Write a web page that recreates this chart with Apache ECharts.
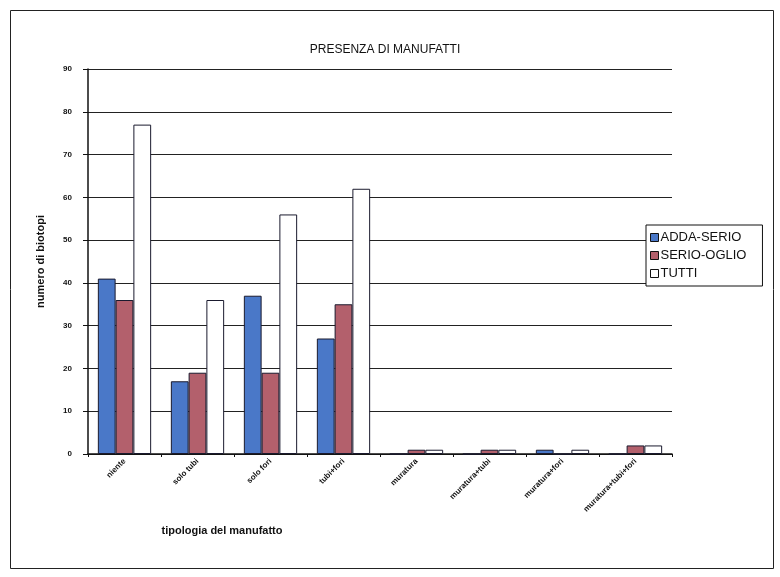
<!DOCTYPE html>
<html>
<head>
<meta charset="utf-8">
<script src="https://cdn.jsdelivr.net/npm/echarts@6/dist/echarts.min.js"></script>
<style>html,body{margin:0;padding:0;background:#fff}#c{width:780px;height:577px}</style>
</head>
<body>
<div id="c"></div>
<script>
const categories = ["niente", "solo tubi", "solo fori", "tubi+fori", "muratura", "muratura+tubi", "muratura+fori", "muratura+tubi+fori"];
const addaSerio = [41, 17, 37, 27, 0, 0, 1, 0];
const serioOglio = [36, 19, 19, 35, 1, 1, 0, 2];
const tutti = [77, 36, 56, 62, 1, 1, 1, 2];
const seriesNames = ["ADDA-SERIO", "SERIO-OGLIO", "TUTTI"];
const yTicks = [0, 10, 20, 30, 40, 50, 60, 70, 80, 90];

const chart = echarts.init(document.getElementById('c'));
const F = 'Liberation Sans, Arial, sans-serif';
const colors = ['#4a78c8', '#b3606c', '#ffffff'];
const mk = (name, data, i) => ({
  name, type: 'bar', data,
  barGap: '0%', barCategoryGap: '27%',
  itemStyle: { color: colors[i], borderColor: '#1a1a2e', borderWidth: 1 }
});
chart.setOption({
  animation: false,
  backgroundColor: '#fff',
  graphic: [{ type: 'rect', left: 8, top: 8, shape: { width: 763, height: 558 }, style: { fill: 'none', stroke: '#222', lineWidth: 1 } }],
  title: [
    { text: 'PRESENZA DI MANUFATTI', left: 380, top: 39, textAlign: 'center', textStyle: { fontFamily: F, fontSize: 12, fontWeight: 'normal', color: '#111' } },
    { text: 'tipologia del manufatto', left: 217, top: 520, textAlign: 'center', textStyle: { fontFamily: F, fontSize: 11, fontWeight: 'bold', color: '#111' } }
  ],
  legend: {
    orient: 'vertical', left: 646, top: 225, padding: [6, 16, 6, 4], itemGap: 5,
    itemWidth: 8, itemHeight: 8, icon: 'rect',
    borderColor: '#111', borderWidth: 1, backgroundColor: '#fff',
    textStyle: { fontFamily: F, fontSize: 13, color: '#111', padding: [0, 0, 0, -3] },
    data: seriesNames.map((n, i) => ({ name: n, itemStyle: { borderColor: '#111', borderWidth: 1 } }))
  },
  grid: { left: 88, right: 108, top: 69, bottom: 123, containLabel: false },
  xAxis: {
    type: 'category', data: categories,
    axisLine: { lineStyle: { color: '#111', width: 1.5 } },
    axisTick: { show: true, length: 3, lineStyle: { color: '#111' } },
    axisLabel: { rotate: 45, fontFamily: F, fontSize: 8, fontWeight: 'bold', color: '#111', margin: 6, interval: 0 }
  },
  yAxis: {
    type: 'value', min: 0, max: 90, interval: 10,
    name: 'numero di biotopi', nameLocation: 'middle', nameGap: 42, nameRotate: 90,
    nameTextStyle: { fontFamily: F, fontSize: 11, fontWeight: 'bold', color: '#111' },
    axisLine: { show: true, lineStyle: { color: '#111', width: 1.5 } },
    axisTick: { show: true, length: 5, lineStyle: { color: '#111' } },
    axisLabel: { fontFamily: F, fontSize: 8, fontWeight: 'bold', color: '#111', margin: 16,
      formatter: v => yTicks.includes(v) ? String(v) : '' },
    splitLine: { show: true, lineStyle: { color: '#222', width: 1 } }
  },
  series: [mk(seriesNames[0], addaSerio, 0), mk(seriesNames[1], serioOglio, 1), mk(seriesNames[2], tutti, 2)]
});
</script>
</body>
</html>
